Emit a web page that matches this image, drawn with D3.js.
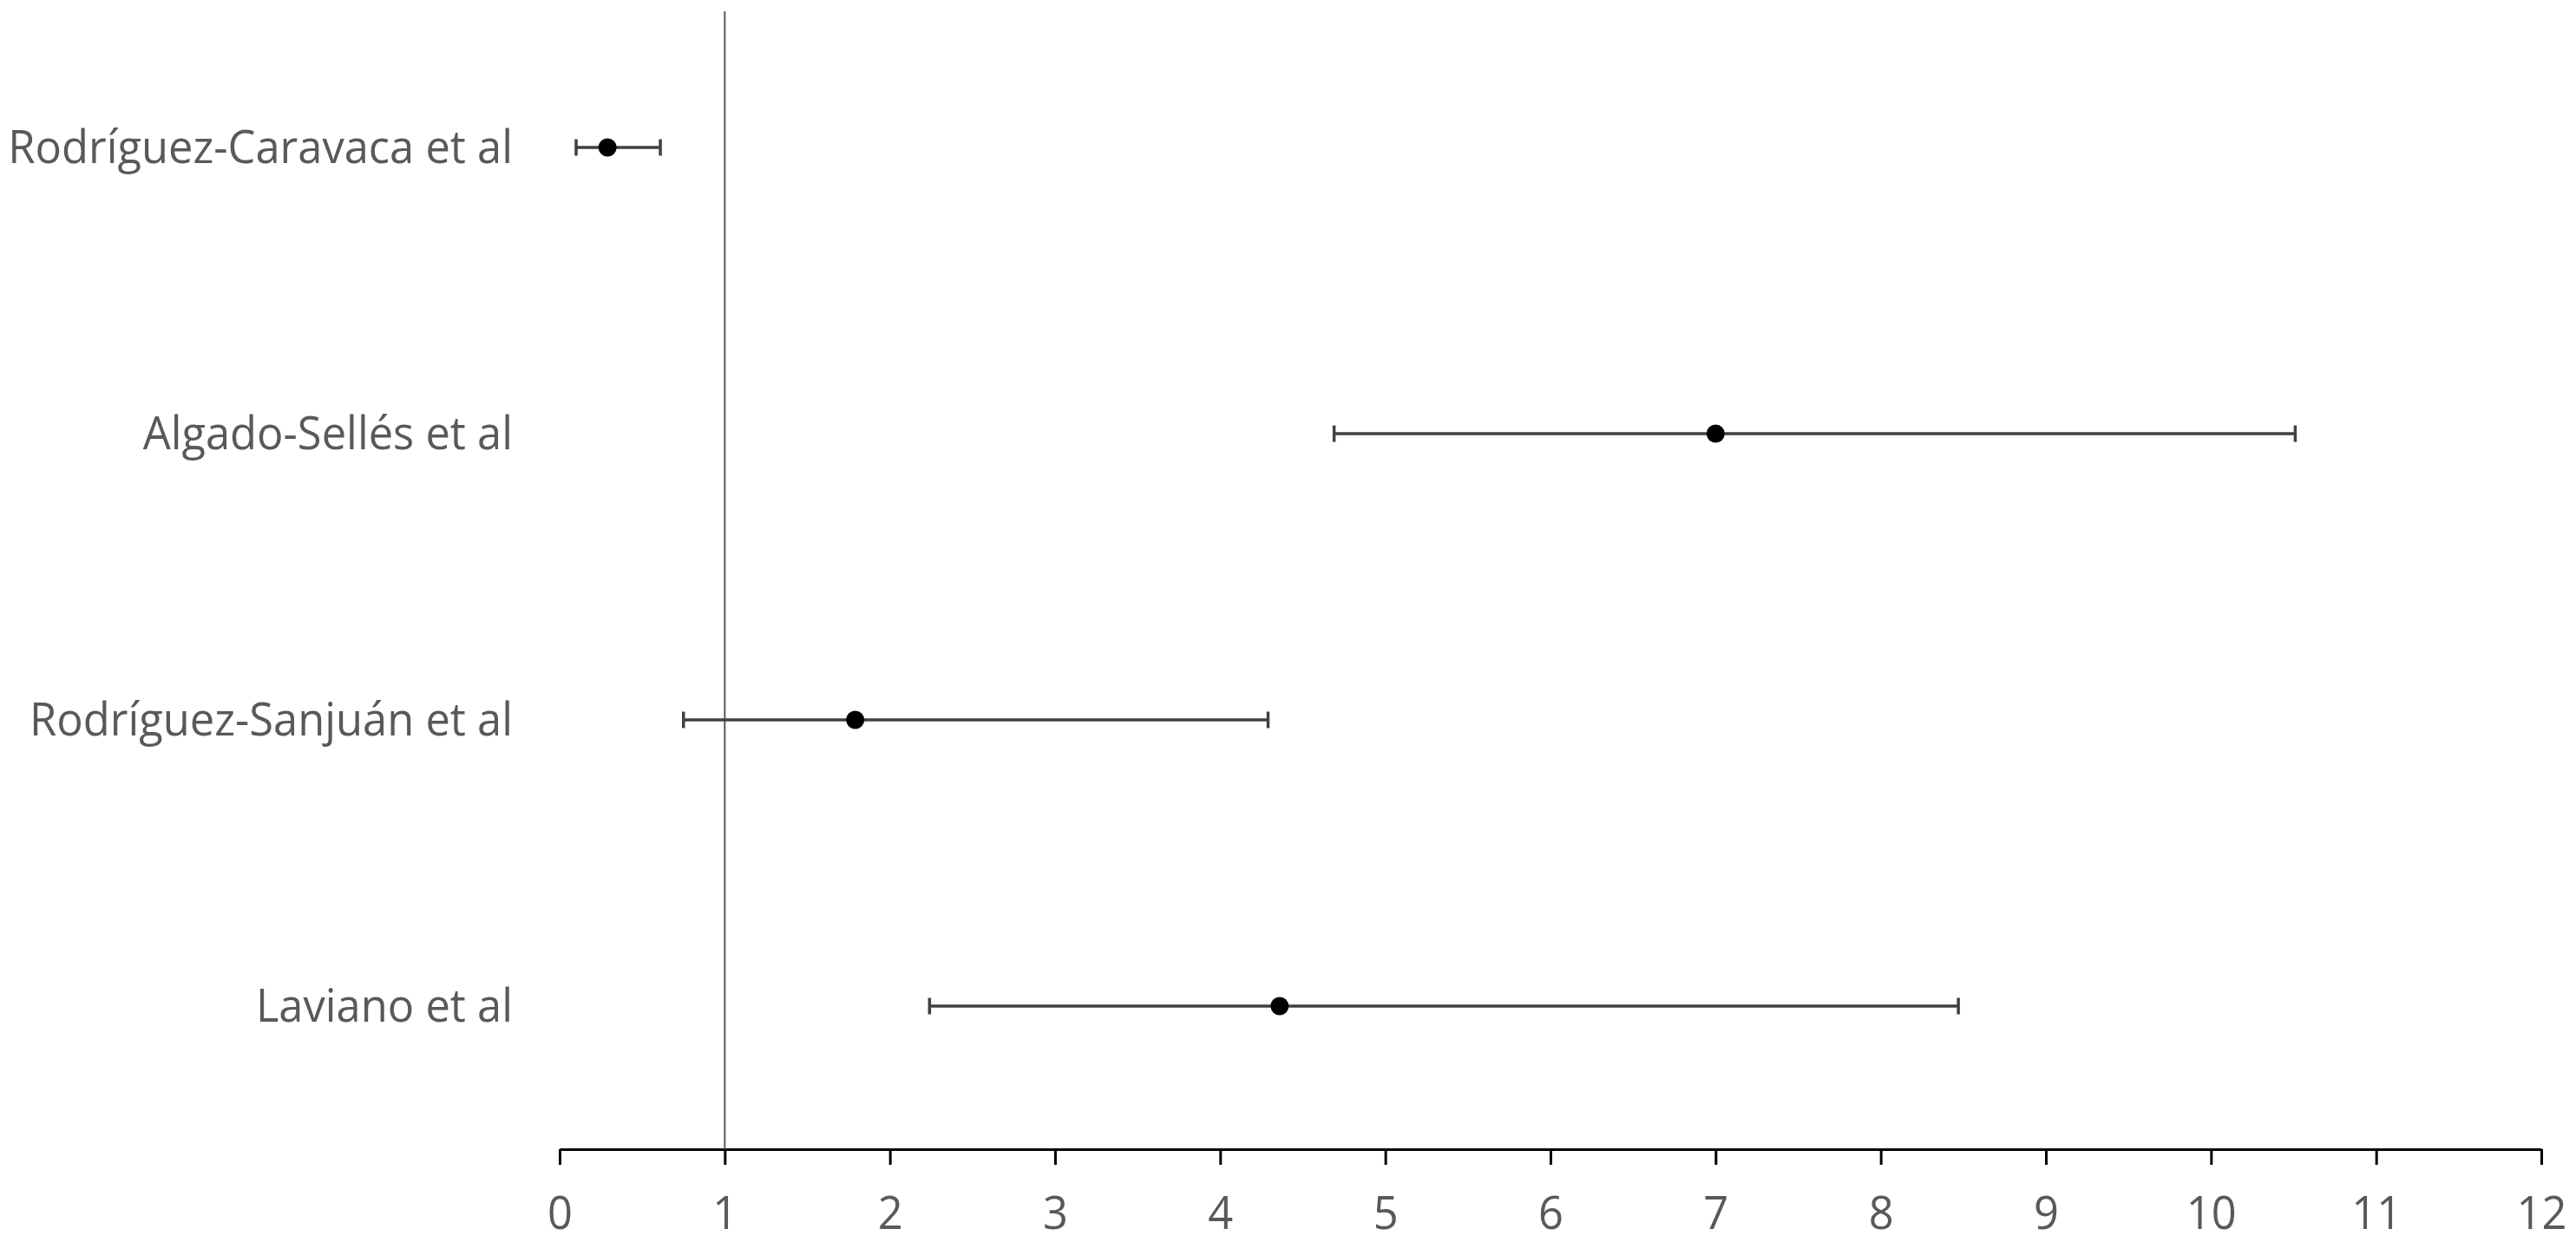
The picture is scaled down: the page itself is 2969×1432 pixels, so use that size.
<!DOCTYPE html>
<html>
<head>
<meta charset="utf-8">
<script src="https://cdn.jsdelivr.net/npm/d3@7"></script>
<style>
  body { margin: 0; background: #fff; }
  svg { display: block; }
  text { font-family: "Open Sans", sans-serif; fill: #595959; }
</style>
</head>
<body>
<div id="chart"></div>
<script>
// studies, top to bottom
const studies = ['Rodríguez-Caravaca et al', 'Algado-Sellés et al', 'Rodríguez-Sanjuán et al', 'Laviano et al'];
const estimates = [0.29, 7.00, 1.79, 4.36];
const lowerCI = [0.10, 4.69, 0.75, 2.24];
const upperCI = [0.61, 10.51, 4.29, 8.47];
const xTicks = [0, 1, 2, 3, 4, 5, 6, 7, 8, 9, 10, 11, 12];
const refValue = 1;

const width = 2969, height = 1432;
const fontSize = 53;

const svg = d3.select('#chart').append('svg')
    .attr('width', width)
    .attr('height', height);

const x = d3.scaleLinear().domain([0, 12]).range([645, 2929]);
const y = d3.scaleBand().domain(studies).range([5, 1325]);

// measure natural label width so it can be squeezed to the narrow look of the original
const probe = svg.append('text').style('font-size', fontSize + 'px').text(studies[0]);
const squeeze = 582 / probe.node().getComputedTextLength();
probe.remove();

// x axis
const xAxis = svg.append('g')
    .attr('transform', 'translate(0,1325)')
    .call(d3.axisBottom(x).tickValues(xTicks).tickFormat(d3.format('d'))
      .tickSize(18).tickSizeOuter(0).tickPadding(36));

xAxis.select('.domain').attr('stroke', '#000').attr('stroke-width', 3);
xAxis.selectAll('.tick line').attr('stroke', '#000').attr('stroke-width', 3);
xAxis.selectAll('.tick text')
    .attr('fill', '#595959')
    .style('font-size', fontSize + 'px')
    .style('font-family', '"Open Sans", sans-serif')
    .attr('transform', 'scale(' + squeeze + ',1)');

// reference line at 1
svg.append('line')
    .attr('x1', x(refValue)).attr('x2', x(refValue))
    .attr('y1', 13).attr('y2', 1325)
    .attr('stroke', '#595959')
    .attr('stroke-width', 2);

// study labels
svg.selectAll('.label')
    .data(studies)
  .enter().append('g')
    .attr('class', 'label')
    .attr('transform', d => 'translate(591,' + (y(d) + y.bandwidth() / 2) + ') scale(' + squeeze + ',1)')
  .append('text')
    .attr('text-anchor', 'end')
    .attr('dy', '0.33em')
    .style('font-size', fontSize + 'px')
    .text(d => d);

const rows = studies.map((s, i) => ({ name: s, est: estimates[i], lo: lowerCI[i], hi: upperCI[i] }));
const cy = d => y(d.name) + y.bandwidth() / 2;

const bars = svg.selectAll('.ci')
    .data(rows)
  .enter().append('g')
    .attr('class', 'ci')
    .attr('stroke', '#404040')
    .attr('stroke-width', 3.5);

bars.append('line')
    .attr('x1', d => x(d.lo)).attr('x2', d => x(d.hi))
    .attr('y1', cy).attr('y2', cy);

bars.append('line')
    .attr('x1', d => x(d.lo)).attr('x2', d => x(d.lo))
    .attr('y1', d => cy(d) - 9.5).attr('y2', d => cy(d) + 9.5);

bars.append('line')
    .attr('x1', d => x(d.hi)).attr('x2', d => x(d.hi))
    .attr('y1', d => cy(d) - 9.5).attr('y2', d => cy(d) + 9.5);

svg.selectAll('.dot')
    .data(rows)
  .enter().append('circle')
    .attr('class', 'dot')
    .attr('cx', d => x(d.est))
    .attr('cy', cy)
    .attr('r', 10.5)
    .attr('fill', '#000');
</script>
</body>
</html>
